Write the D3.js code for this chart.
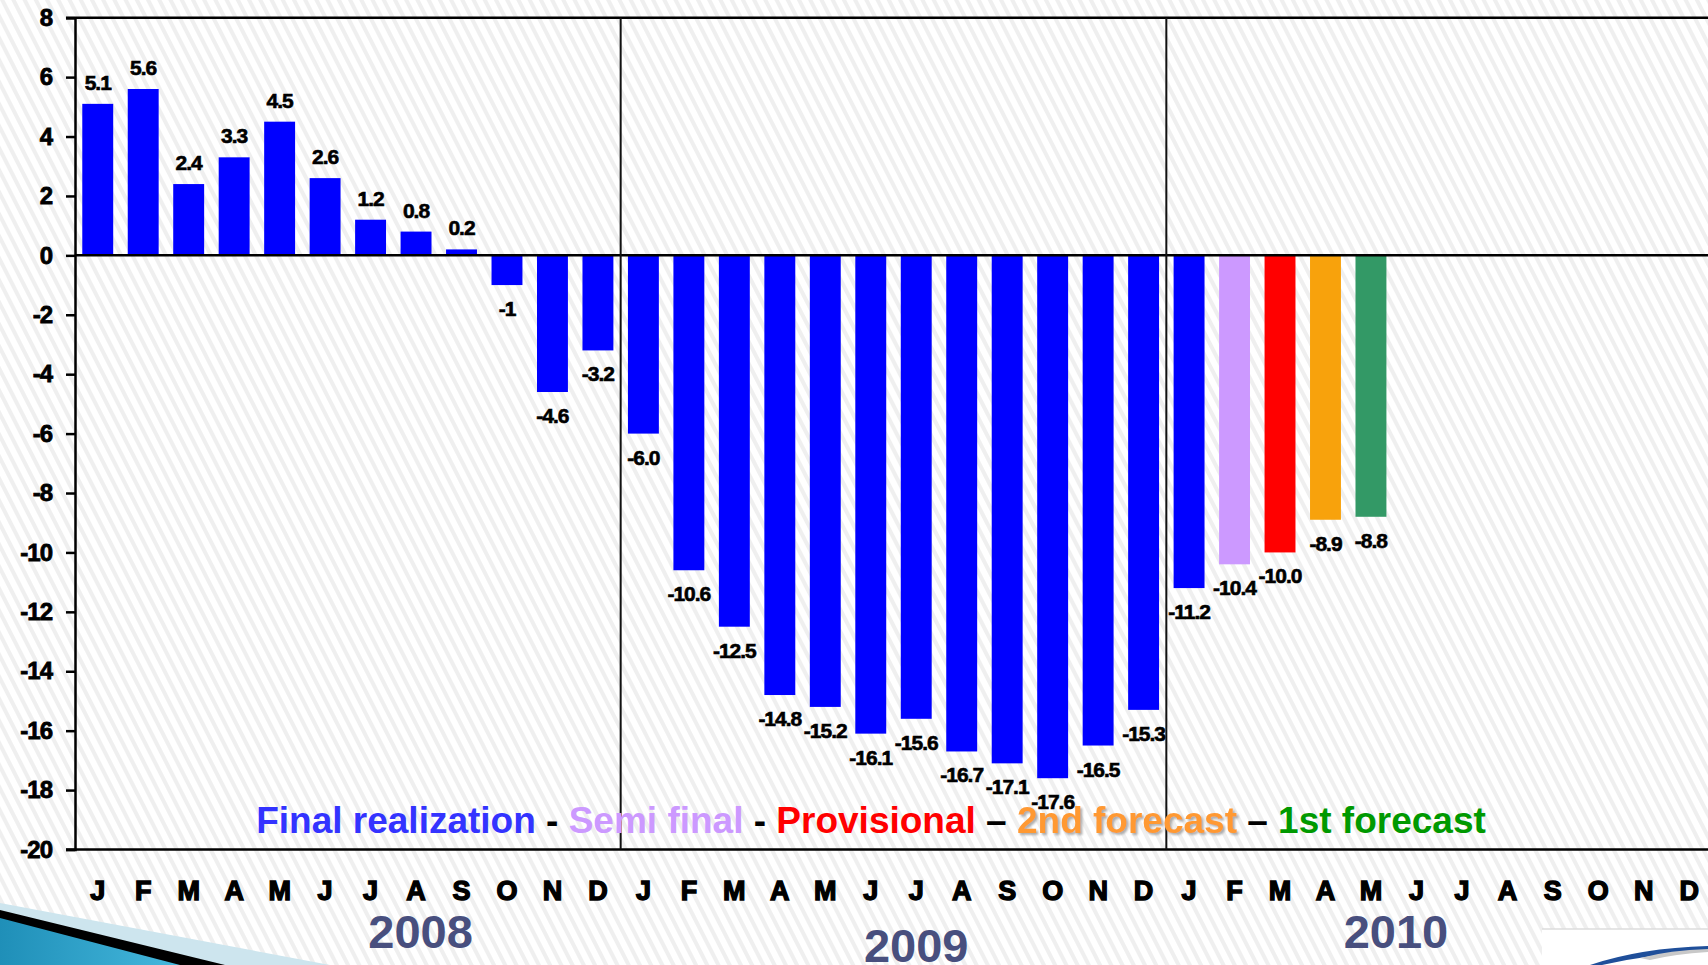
<!DOCTYPE html>
<html>
<head>
<meta charset="utf-8">
<script src="https://cdn.jsdelivr.net/npm/d3@7"></script>
<style>
  html, body { margin: 0; padding: 0; background: #fff; overflow: hidden; }
  text { font-family: "Liberation Sans", Arial, sans-serif; font-weight: bold; }
</style>
</head>
<body>
<div id="chart"></div>
<script>
// months shown along the bottom, three years
var monthLetters = ["J","F","M","A","M","J","J","A","S","O","N","D"];
var years = ["2008", "2009", "2010"];

// monthly values, Jan 2008 .. May 2010
var values = [5.1, 5.6, 2.4, 3.3, 4.5, 2.6, 1.2, 0.8, 0.2, -1, -4.6, -3.2,
              -6.0, -10.6, -12.5, -14.8, -15.2, -16.1, -15.6, -16.7, -17.1, -17.6, -16.5, -15.3,
              -11.2, -10.4, -10.0, -8.9, -8.8];
var valueLabels = ["5.1","5.6","2.4","3.3","4.5","2.6","1.2","0.8","0.2","-1","-4.6","-3.2",
                   "-6.0","-10.6","-12.5","-14.8","-15.2","-16.1","-15.6","-16.7","-17.1","-17.6","-16.5","-15.3",
                   "-11.2","-10.4","-10.0","-8.9","-8.8"];
var statuses = ["Final realization", "Semi final", "Provisional", "2nd forecast", "1st forecast"];
// status of each bar (index into statuses)
var barStatus = [0,0,0,0,0,0,0,0,0,0,0,0, 0,0,0,0,0,0,0,0,0,0,0,0, 0,1,2,3,4];
var yTicks = [8, 6, 4, 2, 0, -2, -4, -6, -8, -10, -12, -14, -16, -18, -20];

var width = 1708, height = 965;
var plotLeft = 75, plotRight = 1712, plotTop = 17.7, plotBottom = 849.5;

var svg = d3.select("#chart").append("svg")
  .attr("width", width)
  .attr("height", height);

// faint diagonal hatching background
var defs = svg.append("defs");
var pat = defs.append("pattern")
  .attr("id", "hatch")
  .attr("width", 10).attr("height", 10)
  .attr("patternUnits", "userSpaceOnUse")
  .attr("patternTransform", "rotate(-27)");
pat.append("rect").attr("width", 10).attr("height", 10).attr("fill", "#ffffff");
pat.append("rect").attr("width", 4).attr("height", 10).attr("fill", "#efefef");

var sh = defs.append("filter").attr("id", "shadow")
  .attr("x", "-5%").attr("y", "-20%").attr("width", "110%").attr("height", "140%");
sh.append("feDropShadow").attr("dx", 2).attr("dy", 2).attr("stdDeviation", 0.8)
  .attr("flood-color", "#999").attr("flood-opacity", 0.8);

var grad = defs.append("linearGradient").attr("id", "teal")
  .attr("x1", "0").attr("x2", "1").attr("y1", "0").attr("y2", "0");
grad.append("stop").attr("offset", "0%").attr("stop-color", "#1f8fb8");
grad.append("stop").attr("offset", "100%").attr("stop-color", "#45b8dd");

svg.append("rect").attr("width", width).attr("height", height).attr("fill", "url(#hatch)");

var color = d3.scaleOrdinal()
  .domain(statuses)
  .range(["#0000ff", "#cc99ff", "#ff0000", "#f8a20c", "#339966"]);
var legendColor = d3.scaleOrdinal()
  .domain(statuses)
  .range(["#3333ff", "#cc99ff", "#ff0000", "#ff9933", "#009900"]);

var allMonths = d3.range(years.length * 12);
var x = d3.scaleBand()
  .domain(allMonths)
  .range([plotLeft, plotRight])
  .paddingInner(0.32)
  .paddingOuter(0.16);

var y = d3.scaleLinear()
  .domain([-20, 8])
  .range([plotBottom, plotTop]);

// bars
svg.selectAll(".bar")
  .data(values)
  .enter()
  .append("rect")
    .attr("class", "bar")
    .attr("x", function(d, i) { return x(i); })
    .attr("width", x.bandwidth())
    .attr("y", function(d) { return y(Math.max(0, d)); })
    .attr("height", function(d) { return Math.abs(y(d) - y(0)); })
    .attr("fill", function(d, i) { return color(statuses[barStatus[i]]); });

// value labels
svg.selectAll(".vlabel")
  .data(values)
  .enter()
  .append("text")
    .attr("class", "vlabel")
    .attr("x", function(d, i) { return x(i) + x.bandwidth() / 2; })
    .attr("y", function(d) { return d >= 0 ? y(d) - 14 : y(d) + 31; })
    .attr("text-anchor", "middle")
    .attr("font-size", 21)
    .attr("letter-spacing", -1)
    .attr("fill", "#000")
    .attr("stroke", "#000")
    .attr("stroke-width", 0.6)
    .text(function(d, i) { return valueLabels[i]; });

// y axis
var yAxis = d3.axisLeft(y).tickValues(yTicks).tickSize(9).tickPadding(14)
  .tickFormat(function(d) { return d < 0 ? "-" + Math.abs(d) : String(d); });
var gy = svg.append("g")
  .attr("transform", "translate(" + plotLeft + ",0)")
  .call(yAxis);
gy.select(".domain").attr("stroke", "#000").attr("stroke-width", 2.5);
gy.selectAll(".tick line").attr("stroke", "#000").attr("stroke-width", 2.5);
gy.selectAll(".tick text")
  .attr("font-size", 24)
  .attr("font-family", "Liberation Sans, Arial, sans-serif")
  .attr("font-weight", "bold")
  .attr("fill", "#000")
  .attr("stroke", "#000")
  .attr("stroke-width", 0.8)
  .attr("letter-spacing", -1);

// horizontal frame lines at top, zero, bottom
svg.selectAll(".hline")
  .data([8, 0, -20])
  .enter()
  .append("line")
    .attr("x1", function(d) { return d === 0 ? plotLeft : plotLeft - 9; })
    .attr("x2", width)
    .attr("y1", function(d) { return y(d); })
    .attr("y2", function(d) { return y(d); })
    .attr("stroke", "#000")
    .attr("stroke-width", 2.5);

// year dividers
svg.selectAll(".divider")
  .data(years.slice(1))
  .enter()
  .append("line")
    .attr("x1", function(d, i) { return x((i + 1) * 12) - x.step() * x.paddingInner() / 2; })
    .attr("x2", function(d, i) { return x((i + 1) * 12) - x.step() * x.paddingInner() / 2; })
    .attr("y1", y(8))
    .attr("y2", y(-20))
    .attr("stroke", "#111")
    .attr("stroke-width", 2);

// month letters
svg.selectAll(".month")
  .data(allMonths)
  .enter()
  .append("text")
    .attr("x", function(d) { return x(d) + x.bandwidth() / 2; })
    .attr("y", 900)
    .attr("text-anchor", "middle")
    .attr("font-size", 27)
    .attr("fill", "#000")
    .attr("stroke", "#000")
    .attr("stroke-width", 1.4)
    .text(function(d) { return monthLetters[d % 12]; });

// legend line
var legendParts = [
  { t: "Final realization", c: legendColor(statuses[0]) },
  { t: " - ", c: "#000" },
  { t: "Semi final", c: legendColor(statuses[1]) },
  { t: " - ", c: "#000" },
  { t: "Provisional", c: legendColor(statuses[2]) },
  { t: " \u2013 ", c: "#000" },
  { t: "2nd forecast", c: legendColor(statuses[3]), shadow: true },
  { t: " \u2013 ", c: "#000" },
  { t: "1st forecast", c: legendColor(statuses[4]) }
];
var legend = svg.append("text")
  .attr("x", 871)
  .attr("y", 833)
  .attr("text-anchor", "middle")
  .attr("font-size", 37)
  .attr("xml:space", "preserve");
legend.selectAll("tspan")
  .data(legendParts)
  .enter()
  .append("tspan")
    .attr("fill", function(d) { return d.c; })
    .attr("filter", function(d) { return d.shadow ? "url(#shadow)" : null; })
    .text(function(d) { return d.t; });

// year labels, placed under their months
var yearAt = [7.6, 18.5, 29.05];
var yearBase = [948, 962, 948];
svg.selectAll(".year")
  .data(years)
  .enter()
  .append("text")
    .attr("x", function(d, i) { return plotLeft + yearAt[i] * x.step(); })
    .attr("y", function(d, i) { return yearBase[i]; })
    .attr("text-anchor", "middle")
    .attr("font-size", 47)
    .attr("fill", "#484f7e")
    .text(function(d) { return d; });

// slide decoration, bottom left
svg.append("polygon").attr("points", "0,903 330,965 0,965").attr("fill", "#cde5ee");
svg.append("polygon").attr("points", "0,910 225,965 0,965").attr("fill", "#000");
svg.append("polygon").attr("points", "0,918 180,965 0,965").attr("fill", "url(#teal)");

// slide decoration, bottom right
svg.append("rect").attr("x", 1542).attr("y", 929).attr("width", 170).attr("height", 40).attr("fill", "#fff");
svg.append("line").attr("x1", 1542).attr("x2", width).attr("y1", 929).attr("y2", 929)
  .attr("stroke", "#ddd").attr("stroke-width", 1.5);
svg.append("path")
  .attr("d", "M1590,965 Q1640,948 1708,946 L1708,951 Q1650,954 1602,965 Z")
  .attr("fill", "#1f4f9a");
svg.append("path")
  .attr("d", "M1640,958 Q1670,950 1708,949 L1708,952 Q1675,954 1650,960 Z")
  .attr("fill", "#c8c8c8");
</script>
</body>
</html>
